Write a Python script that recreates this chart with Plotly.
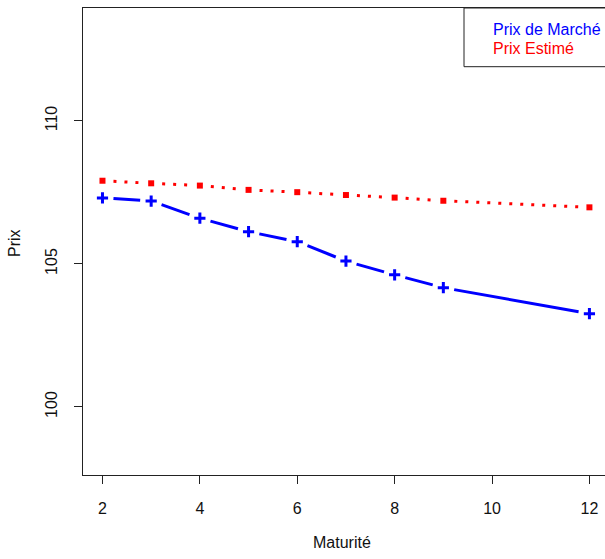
import math
import plotly.graph_objects as go

maturite = [2, 3, 4, 5, 6, 7, 8, 9, 12]
prix_marche = [107.31, 107.20, 106.60, 106.13, 105.78, 105.10, 104.62, 104.17, 103.26]
prix_estime = [107.91, 107.82, 107.74, 107.59, 107.51, 107.41, 107.32, 107.21, 106.98]
x_ticks = [2, 4, 6, 8, 10, 12]
y_ticks = [100, 105, 110]

FONT = "Liberation Sans, Arial, sans-serif"
BLUE = "#0000FF"
RED = "#FF0000"
X_RANGE = [1.6, 12.32]
Y_RANGE = [97.62, 113.95]
W, H = 605, 559
ML, MR, MT, MB = 83, 0, 8, 84
PX_X = (W - ML - MR) / (X_RANGE[1] - X_RANGE[0])
PX_Y = (H - MT - MB) / (Y_RANGE[1] - Y_RANGE[0])
GAP = 11  # pixels left blank around each point (R type="b")


def gapped(xs, ys, gap=GAP):
    gx, gy = [], []
    for i in range(len(xs) - 1):
        dxp = (xs[i + 1] - xs[i]) * PX_X
        dyp = (ys[i + 1] - ys[i]) * PX_Y
        L = math.hypot(dxp, dyp)
        if L <= 2 * gap:
            continue
        t = gap / L
        gx += [xs[i] + t * (xs[i + 1] - xs[i]), xs[i + 1] - t * (xs[i + 1] - xs[i]), None]
        gy += [ys[i] + t * (ys[i + 1] - ys[i]), ys[i + 1] - t * (ys[i + 1] - ys[i]), None]
    return gx, gy


fig = go.Figure()
bx, by = gapped(maturite, prix_marche)
rx, ry = gapped(maturite, prix_estime)
fig.add_trace(go.Scatter(x=bx, y=by, mode="lines", connectgaps=False,
                         line=dict(color=BLUE, width=3), showlegend=False, hoverinfo="skip"))
fig.add_trace(go.Scatter(x=rx, y=ry, mode="lines", connectgaps=False,
                         line=dict(color=RED, width=3, dash="3px,8px"), showlegend=False,
                         hoverinfo="skip"))
fig.add_trace(go.Scatter(x=maturite, y=prix_marche, mode="markers", name="Prix de Marché",
                         marker=dict(symbol="cross-thin", size=8, line=dict(color=BLUE, width=3)),
                         showlegend=False))
fig.add_trace(go.Scatter(x=maturite, y=prix_estime, mode="markers", name="Prix Estimé",
                         marker=dict(symbol="square", size=6, color=RED, line=dict(width=0)),
                         showlegend=False))

fig.update_layout(
    width=W, height=H,
    margin=dict(l=ML, r=MR, t=MT, b=MB),
    paper_bgcolor="white", plot_bgcolor="white",
    font=dict(family=FONT, size=16, color="#111"),
    xaxis=dict(range=X_RANGE, tickvals=x_ticks, ticks="outside", ticklen=8, tickwidth=1,
               tickcolor="#222", showline=True, linecolor="#222", linewidth=1, mirror=True,
               showgrid=False, zeroline=False, ticklabelstandoff=11),
    yaxis=dict(range=Y_RANGE, tickvals=y_ticks, tickangle=-90, ticks="outside", ticklen=8,
               tickwidth=1, tickcolor="#222", showline=True, linecolor="#222", linewidth=1,
               mirror=False, showgrid=False, zeroline=False, ticklabelstandoff=11),
    shapes=[dict(type="rect", xref="paper", yref="paper", x0=0.7299, x1=1.05, y0=0.8743, y1=1.0,
                 line=dict(color="#222", width=1), fillcolor="white", layer="above")],
    annotations=[
        dict(text="Maturité", xref="paper", yref="paper", x=0.496, y=-0.1456, showarrow=False,
             xanchor="center", yanchor="middle", font=dict(size=16)),
        dict(text="Prix", xref="paper", yref="paper", x=-0.1303, y=0.4968, showarrow=False,
             textangle=-90, xanchor="center", yanchor="middle", font=dict(size=16)),
        dict(text="Prix de Marché", xref="paper", yref="paper", x=0.7816, y=0.9529, showarrow=False,
             xanchor="left", yanchor="middle", font=dict(size=16, color=BLUE)),
        dict(text="Prix Estimé", xref="paper", yref="paper", x=0.7816, y=0.9143, showarrow=False,
             xanchor="left", yanchor="middle", font=dict(size=16, color=RED)),
    ],
)

fig.write_html("out.html")
